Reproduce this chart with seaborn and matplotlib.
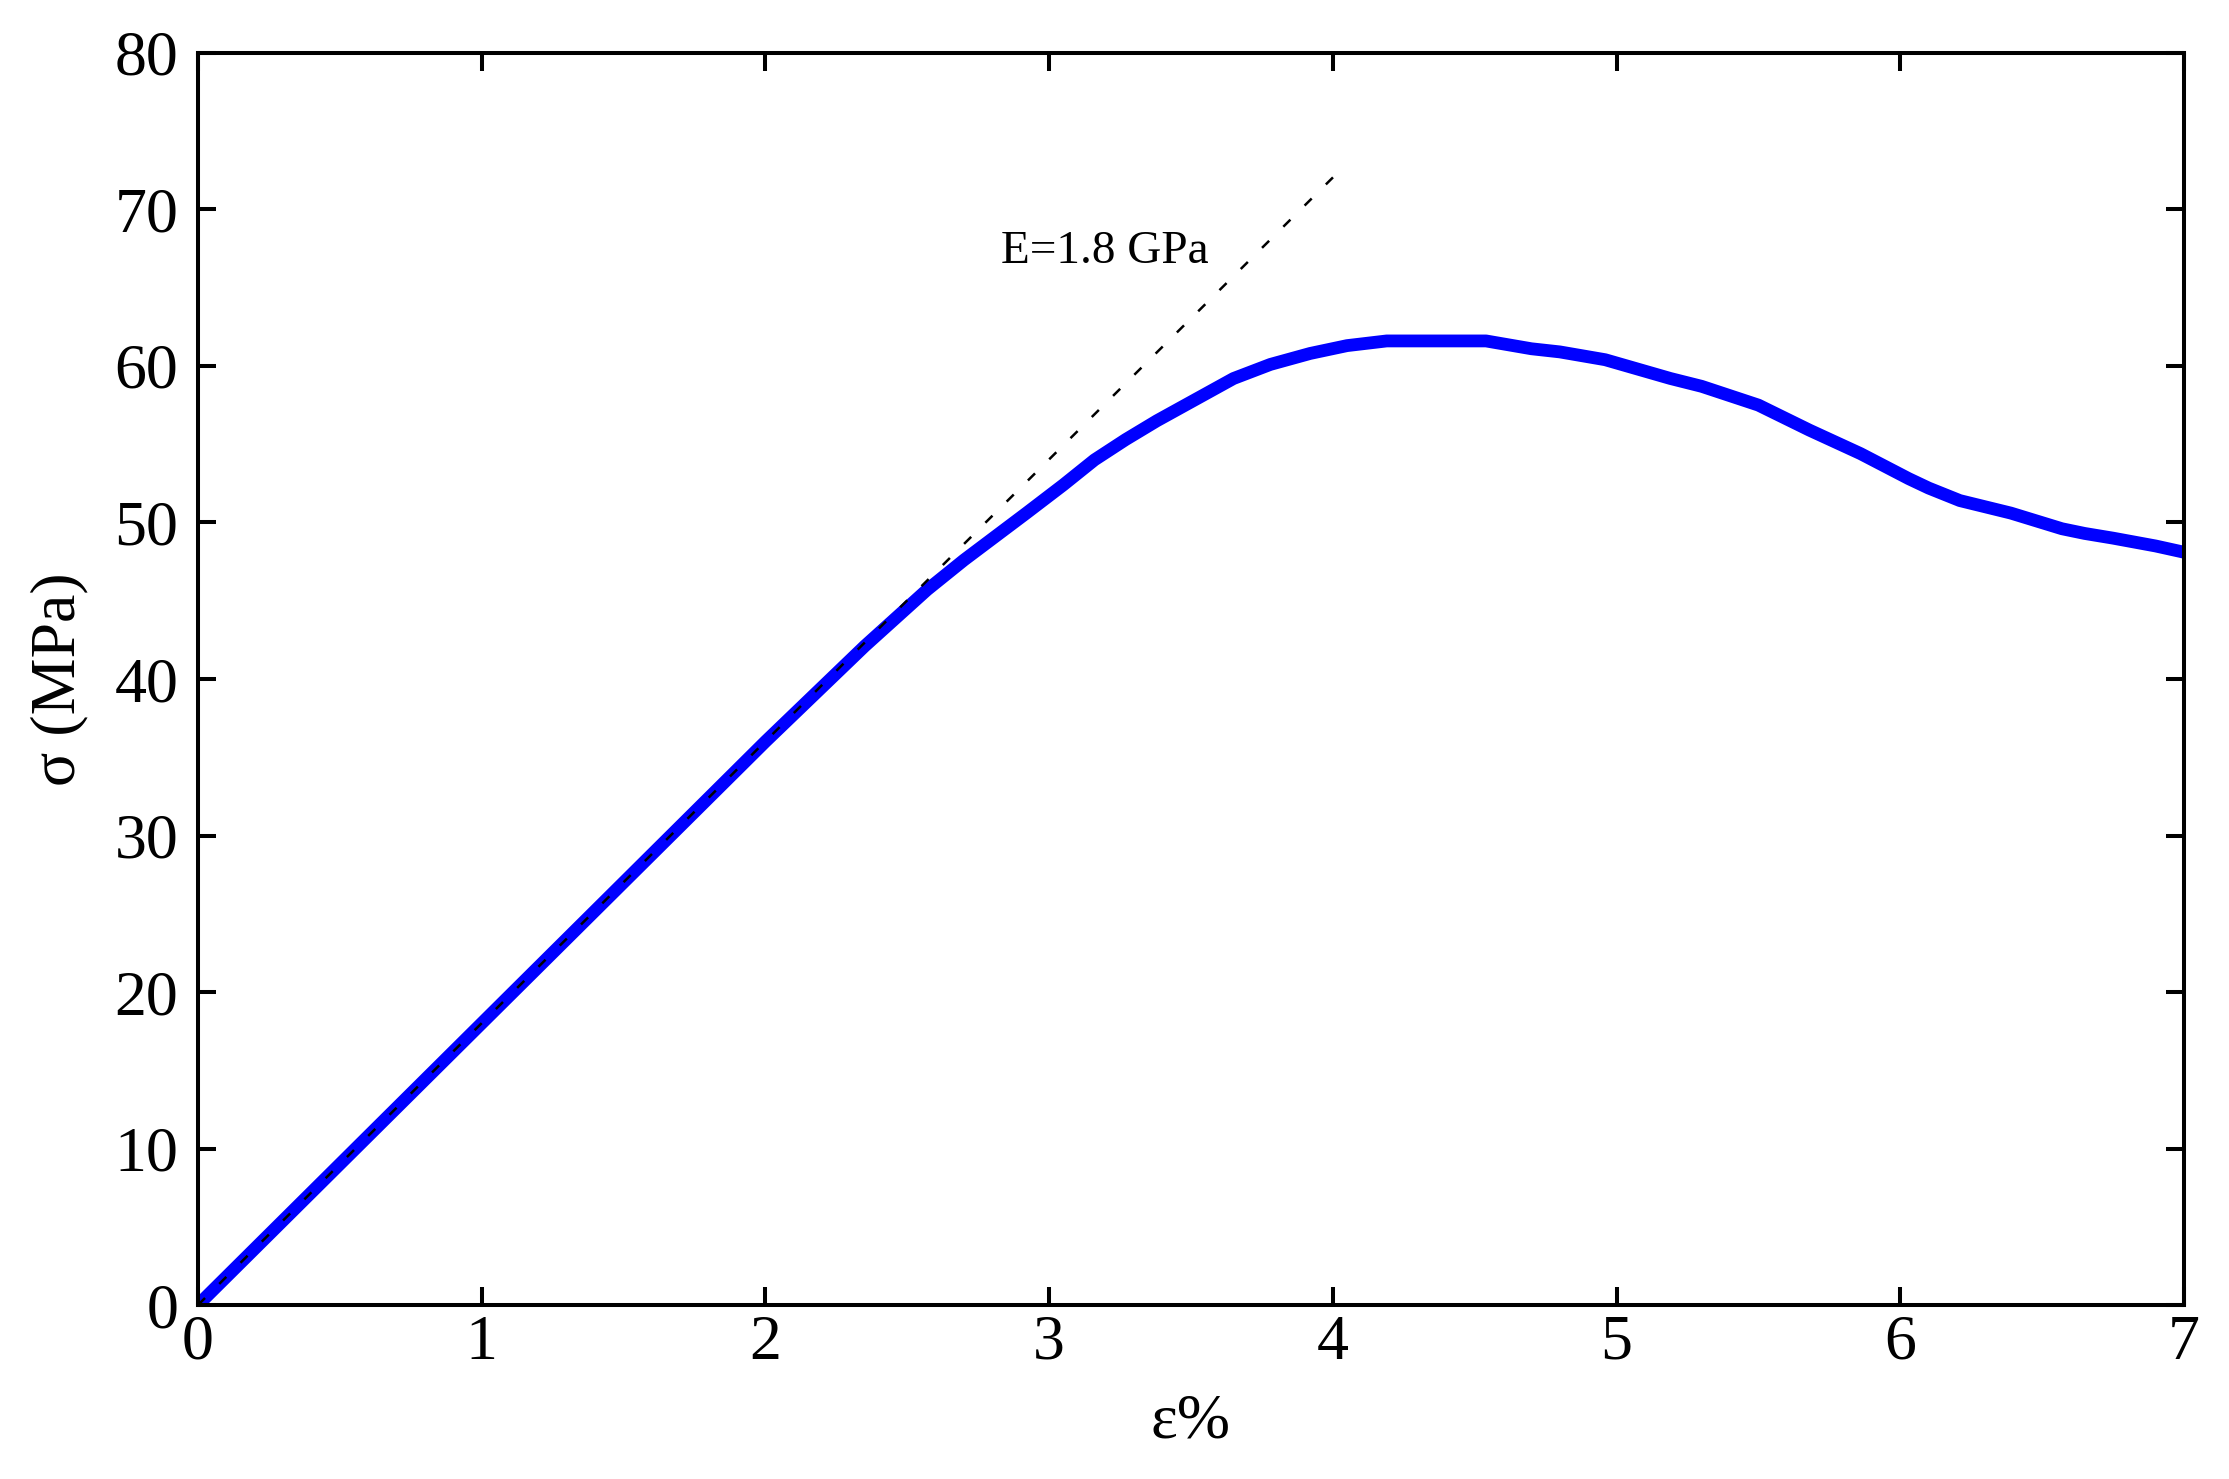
import numpy as np
import pandas as pd
import matplotlib
matplotlib.use("Agg")
import matplotlib.pyplot as plt
import seaborn as sns

# stress-strain curve
strain = [0, 0.5, 1.0, 1.5, 2.0, 2.35, 2.57, 2.70, 2.92, 3.05, 3.16, 3.27,
          3.38, 3.50, 3.65, 3.78, 3.92, 4.05, 4.19, 4.40, 4.54, 4.70, 4.80,
          4.96, 5.19, 5.30, 5.40, 5.50, 5.68, 5.86, 6.03, 6.10, 6.21, 6.30,
          6.39, 6.48, 6.57, 6.65, 6.75, 6.90, 7.0]
stress = [0, 9.0, 18.0, 27.0, 36.0, 42.1, 45.7, 47.6, 50.6, 52.4, 54.0, 55.3,
          56.5, 57.7, 59.2, 60.1, 60.8, 61.3, 61.6, 61.6, 61.6, 61.1, 60.9,
          60.4, 59.2, 58.7, 58.1, 57.5, 55.9, 54.4, 52.8, 52.2, 51.4, 51.0,
          50.6, 50.1, 49.6, 49.3, 49.0, 48.5, 48.1]

# elastic modulus reference line
modulus_strain = [0, 4.02]
modulus_stress = [0, 72.4]

x_ticks = [0, 1, 2, 3, 4, 5, 6, 7]
y_ticks = [0, 10, 20, 30, 40, 50, 60, 70, 80]

df = pd.DataFrame({"strain": strain, "stress": stress})

sns.set_style("ticks")
plt.rcParams["font.family"] = ["Liberation Serif", "DejaVu Serif"]
plt.rcParams["text.color"] = "black"
plt.rcParams["axes.labelcolor"] = "black"
plt.rcParams["xtick.color"] = "black"
plt.rcParams["ytick.color"] = "black"

fig = plt.figure(figsize=(22.29, 14.79), dpi=100)
ax = fig.add_axes([0.0888, 0.1176, 0.9798 - 0.0888, 0.9642 - 0.1176])

sns.lineplot(data=df, x="strain", y="stress", color="#0000ff", lw=9.2,
             sort=False, ax=ax, solid_capstyle="butt")
ax.plot(modulus_strain, modulus_stress, color="black", lw=1.8,
        linestyle=(0, (4, 8)))

ax.text(2.83, 66.6, "E=1.8 GPa", fontsize=34, color="black",
        ha="left", va="baseline")

ax.set_xlim(0, 7)
ax.set_ylim(0, 80)
ax.set_xticks(x_ticks)
ax.set_yticks(y_ticks)
ax.set_xticklabels([str(t) for t in x_ticks])
ax.set_yticklabels([str(t) for t in y_ticks])

for s in ax.spines.values():
    s.set_visible(True)
    s.set_linewidth(2.9)
    s.set_color("black")

ax.tick_params(axis="both", which="major", direction="in", length=13,
               width=2.9, color="black", labelcolor="black", labelsize=46,
               top=True, right=True)
ax.tick_params(axis="x", pad=7)
ax.tick_params(axis="y", pad=14)

ax.set_xlabel("ε%", fontsize=46, color="black")
ax.set_ylabel("σ (MPa)", fontsize=46, color="black")
ax.xaxis.set_label_coords(0.5, -0.071)
ax.yaxis.set_label_coords(-0.055, 0.5)

fig.savefig("out.png", dpi=100, facecolor="white")
